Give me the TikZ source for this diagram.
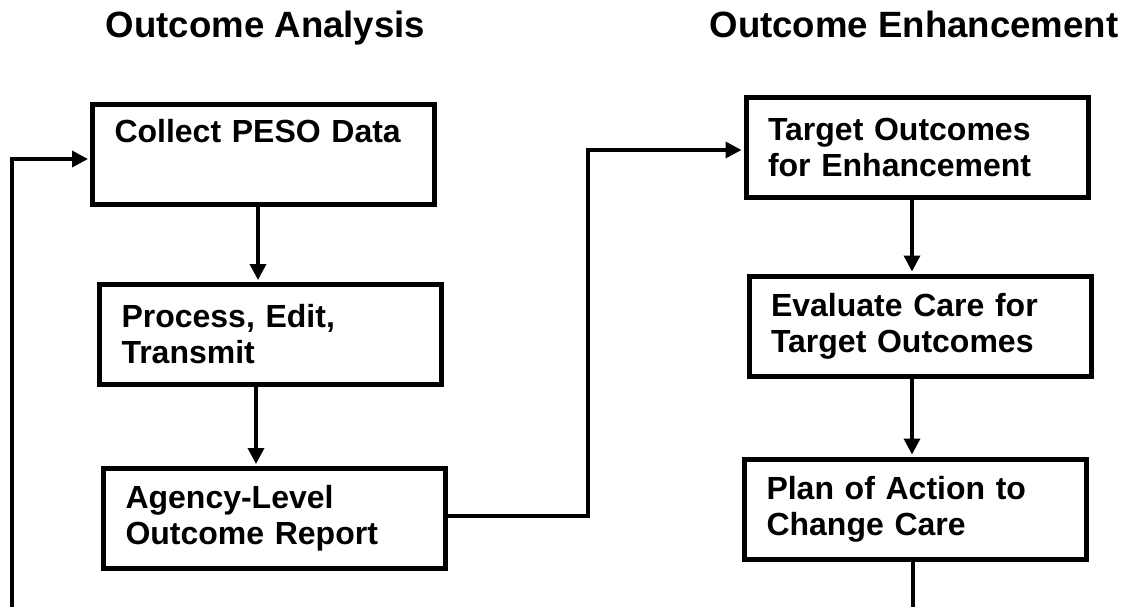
\documentclass[tikz,border=0pt]{standalone}
\usepackage{fontspec}
\setmainfont{Liberation Sans}
\usetikzlibrary{arrows.meta}

\begin{document}
\begin{tikzpicture}[x=0.5pt,y=-0.5pt,
    box/.style={draw,line width=2.5pt,minimum width=171pt,minimum height=50pt,
      text width=149pt,inner xsep=11pt,align=left,
      font=\fontsize{16}{18}\selectfont\bfseries},
    heading/.style={anchor=base,font=\fontsize{18.3}{22}\selectfont\bfseries},
    wire/.style={line width=1.8pt},
    flow/.style={wire,shorten >=1pt,-{Triangle[length=8pt,width=8pt]}}]
  \useasboundingbox (0,0) rectangle (1135,607);
  % headings over the two columns
  \node[heading] (hanalysis) at (265.5,37) {Outcome Analysis};
  \node[heading] (henhance) at (914,37) {Outcome Enhancement};
  % left column
  \node[box] (collect) at (263.5,154) {Collect PESO Data\\\strut};
  \node[box] (process) at (270.5,334.5) {Process, Edit,\\Transmit};
  \node[box] (agency) at (274.5,518.5) {Agency-Level\\Outcome Report};
  % right column
  \node[box] (target) at (917,147.5) {Target Outcomes\\for Enhancement};
  \node[box] (evaluate) at (920,326) {Evaluate Care for\\Target Outcomes};
  \node[box] (plan) at (915.5,509) {Plan of Action to\\Change Care};
  % helper points for the connectors
  \coordinate (lcol1) at (258,0);
  \coordinate (lcol2) at (256,0);
  \coordinate (rcol) at (912,0);
  \coordinate (fbfoot) at (12,607);
  \coordinate (fbturn) at (12,159);
  \coordinate (joglow) at (588,516);
  \coordinate (jogtop) at (588,150);
  \coordinate (planfoot) at (913,607);
  % connectors
  \draw[flow] (collect.south -| lcol1) -- (process.north -| lcol1);
  \draw[flow] (process.south -| lcol2) -- (agency.north -| lcol2);
  \draw[flow] (target.south -| rcol) -- (evaluate.north -| rcol);
  \draw[flow] (evaluate.south -| rcol) -- (plan.north -| rcol);
  \draw[flow] (agency.east |- joglow) -- (joglow) -- (jogtop) -- (target.west |- jogtop);
  \draw[flow] (fbfoot) -- (fbturn) -- (collect.west |- fbturn);
  \draw[wire] (plan.south -| planfoot) -- (planfoot);
\end{tikzpicture}
\end{document}
